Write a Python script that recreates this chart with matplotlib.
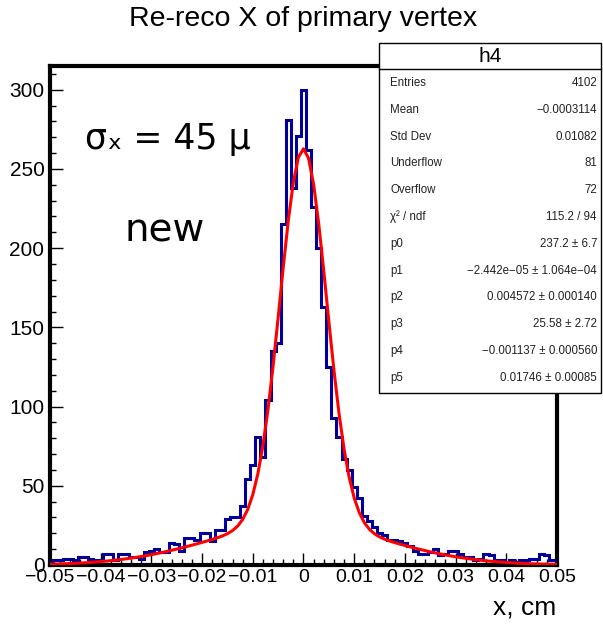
import numpy as np
import matplotlib.pyplot as plt
from matplotlib.patches import Rectangle
from matplotlib.lines import Line2D

W, H = 603, 624

# histogram: bin centres every 0.001 cm from -0.050 to 0.050
bin_centers = np.arange(-50, 51) * 0.001
counts = [
    2, 3, 3, 4, 4, 3, 5, 5, 4, 3,
    3, 7, 7, 3, 7, 7, 5, 5, 4, 8,
    9, 10, 8, 8, 14, 13, 9, 17, 17, 16,
    20, 20, 15, 22, 22, 29, 30, 30, 37, 54,
    63, 81, 68, 104, 135, 140, 215, 281, 238, 271,
    300,
    262, 226, 200, 163, 125, 93, 81, 67, 60, 49,
    42, 31, 28, 24, 20, 19, 16, 16, 15, 14,
    12, 9, 7, 7, 8, 10, 6, 7, 9, 9,
    7, 5, 5, 3, 4, 7, 6, 3, 3, 2,
    3, 2, 3, 3, 4, 4, 7, 6, 3, 3,
]

# double gaussian fit parameters (from the stat box)
fit_pars = [237.2, -2.442e-05, 0.004572, 25.58, -0.001137, 0.01746]

x_ticks = [-0.05, -0.04, -0.03, -0.02, -0.01, 0, 0.01, 0.02, 0.03, 0.04, 0.05]
x_tick_labels = ["\u22120.05", "\u22120.04", "\u22120.03", "\u22120.02", "\u22120.01",
                 "0", "0.01", "0.02", "0.03", "0.04", "0.05"]
y_ticks = [0, 50, 100, 150, 200, 250, 300]

stat_names = ["Entries", "Mean", "Std Dev", "Underflow", "Overflow", "\u03c7\u00b2 / ndf",
              "p0", "p1", "p2", "p3", "p4", "p5"]
stat_values = ["4102", "\u22120.0003114", "0.01082", "81", "72", "115.2 / 94",
               "237.2 \u00b1 6.7", "\u22122.442e\u221205 \u00b1 1.064e\u221204",
               "0.004572 \u00b1 0.000140", "25.58 \u00b1 2.72",
               "\u22120.001137 \u00b1 0.000560", "0.01746 \u00b1 0.00085"]

ROOT_FONT = "Liberation Sans"


def fx(px):
    return px / W


def fy(py):
    return 1 - py / H


def double_gaus(x, p):
    g1 = p[0] * np.exp(-0.5 * ((x - p[1]) / p[2]) ** 2)
    g2 = p[3] * np.exp(-0.5 * ((x - p[4]) / p[5]) ** 2)
    return g1 + g2


fig = plt.figure(figsize=(W / 100, H / 100), dpi=100)
fig.patch.set_facecolor("white")
ax = fig.add_axes([fx(50), fy(565), (557 - 50) / W, (565 - 66) / H])

edges = np.append(bin_centers - 0.0005, bin_centers[-1] + 0.0005)
ax.stairs(counts, edges, color="#000099", lw=2.2, baseline=None, zorder=3)

xf = np.linspace(-0.05, 0.05, 101)
ax.plot(xf, double_gaus(xf, fit_pars), color="red", lw=2.2, zorder=4)

ax.set_xlim(-0.05, 0.05)
ax.set_ylim(0, 315)

for side in ["left", "right", "top", "bottom"]:
    ax.spines[side].set_linewidth(3.0)

ax.set_xticks(x_ticks, x_tick_labels)
ax.set_xticks(np.arange(-0.05, 0.0501, 0.002), minor=True)
ax.set_yticks(y_ticks, [str(v) for v in y_ticks])
ax.set_yticks(np.arange(0, 311, 10), minor=True)
ax.tick_params(axis="both", which="major", direction="in", length=9, width=1.0)
ax.tick_params(axis="both", which="minor", direction="in", length=4.5, width=1.0)
ax.tick_params(axis="x", which="both", top=False, pad=3)
ax.tick_params(axis="y", which="both", right=False, pad=4)
for lab in ax.get_xticklabels():
    lab.set_family(ROOT_FONT)
    lab.set_fontsize(14)
for lab in ax.get_yticklabels():
    lab.set_family(ROOT_FONT)
    lab.set_fontsize(15)

fig.text(fx(303), fy(19), "Re-reco X of primary vertex", ha="center", va="center",
         family=ROOT_FONT, fontsize=20.5)
fig.text(fx(556), fy(608), "x, cm", ha="right", va="center", family=ROOT_FONT, fontsize=19)

fig.text(fx(85), fy(149), "\u03c3\u2093 = 45 \u03bc", ha="left", va="baseline",
         family="DejaVu Sans", fontsize=25)
fig.text(fx(124), fy(242), "new", ha="left", va="baseline",
         family="DejaVu Sans", fontsize=28)

# stat box
bx0, bx1, by0, by1 = 379, 601, 43, 393
fig.add_artist(Rectangle((fx(bx0), fy(by1)), (bx1 - bx0) / W, (by1 - by0) / H,
                         transform=fig.transFigure, facecolor="white",
                         edgecolor="black", lw=1.0, zorder=5))
fig.add_artist(Line2D([fx(bx0), fx(bx1)], [fy(69), fy(69)], transform=fig.transFigure,
                      color="black", lw=1.0, zorder=6))
fig.text(fx((bx0 + bx1) / 2), fy(57), "h4", ha="center", va="center",
         family=ROOT_FONT, fontsize=15, zorder=7)
for i, (name, val) in enumerate(zip(stat_names, stat_values)):
    yy = fy(83 + i * 26.8)
    fig.text(fx(390), yy, name, ha="left", va="center", family=ROOT_FONT,
             fontsize=8.3, color="#222222", zorder=7)
    fig.text(fx(597), yy, val, ha="right", va="center", family=ROOT_FONT,
             fontsize=8.3, color="#222222", zorder=7)

fig.savefig("out.png", dpi=100)
